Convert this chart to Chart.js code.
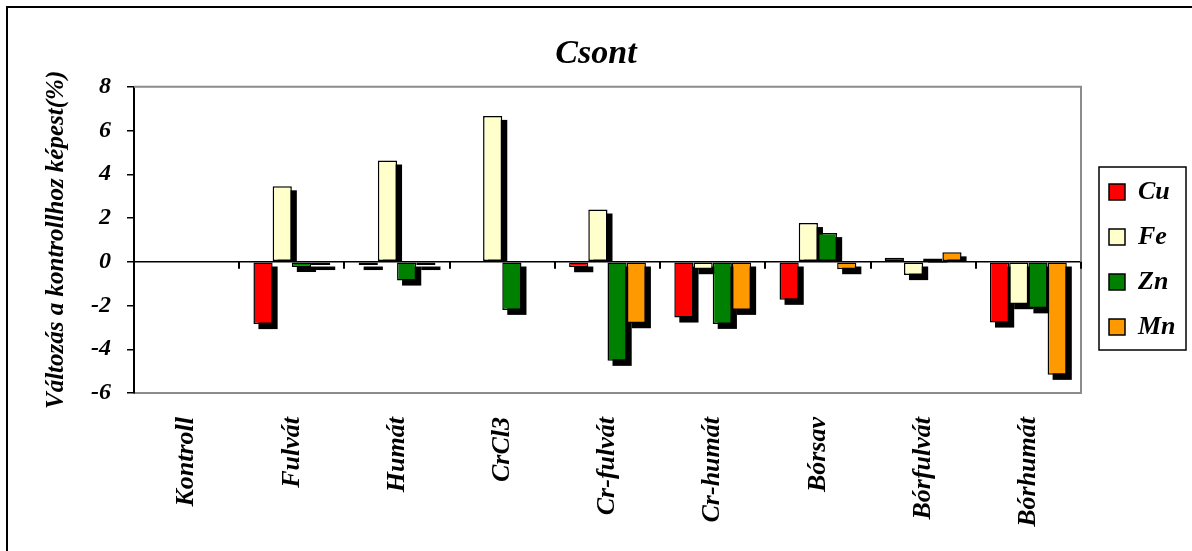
<!DOCTYPE html>
<html>
<head>
<meta charset="utf-8">
<script src="https://cdn.jsdelivr.net/npm/chart.js@4"></script>
<style>
  body { margin: 0; background: #fff; }
  #wrap { width: 1192px; height: 551px; position: relative; }
</style>
</head>
<body>
<div id="wrap"><canvas id="myChart"></canvas></div>
<script>
const categories = ['Kontroll', 'Fulvát', 'Humát', 'CrCl3', 'Cr-fulvát', 'Cr-humát', 'Bórsav', 'Bórfulvát', 'Bórhumát'];
const cu = [0, -2.85, -0.15, 0, -0.25, -2.55, -1.74, 0.18, -2.78];
const fe = [0, 3.45, 4.63, 6.67, 2.39, -0.34, 1.77, -0.61, -1.94];
const zn = [0, -0.24, -0.86, -2.2, -4.53, -2.84, 1.31, 0.15, -2.13];
const mn = [0, -0.15, -0.15, 0, -2.81, -2.2, -0.34, 0.43, -5.17];
const yTicks = [-6, -4, -2, 0, 2, 4, 6, 8];

const serif = "'Liberation Serif', 'Times New Roman', serif";
Chart.defaults.color = '#000';
Chart.defaults.font.family = serif;

// legend eltolása
const LEG_DX = 9, LEG_DY = -16;

// fekete "árnyék" a bárok mögött
const arnyek = {
	id: 'arnyek',
	afterInit(chart) {
		const leg = chart.legend;
		const fit = leg.fit;
		leg.fit = function () {
			fit.call(this);
			this.width = 111;
		};
		const draw = leg.draw;
		leg.draw = function () {
			const ctx = this.ctx;
			ctx.save();
			ctx.translate(LEG_DX, LEG_DY);
			draw.call(this);
			ctx.restore();
		};
	},
	beforeDatasetsDraw(chart) {
		const ctx = chart.ctx;
		ctx.save();
		ctx.fillStyle = '#000';
		chart.data.datasets.forEach((ds, i) => {
			chart.getDatasetMeta(i).data.forEach(bar => {
				const left = bar.x - bar.width / 2 + 5;
				if (bar.y < bar.base) {
					ctx.fillRect(left, bar.y + 4, bar.width, bar.base - bar.y - 4);
				} else if (bar.y > bar.base) {
					ctx.fillRect(left, bar.base + 4, bar.width, bar.y - bar.base + 1);
				}
			});
		});
		ctx.restore();
	}
};

const keret = {
	id: 'keret',
	beforeDraw(chart) {
		const ctx = chart.ctx;
		ctx.save();
		ctx.strokeStyle = '#000';
		ctx.lineWidth = 2;
		ctx.strokeRect(7, 7, chart.width + 20, chart.height + 20);
		ctx.restore();
	},
	afterDraw(chart) {
		const ctx = chart.ctx;
		const a = chart.chartArea;
		const x = chart.scales.x, y = chart.scales.y;
		ctx.save();
		// szürke keret fent és jobbra
		ctx.strokeStyle = '#8c8c8c';
		ctx.lineWidth = 2;
		ctx.beginPath();
		ctx.moveTo(a.left, a.top);
		ctx.lineTo(a.right, a.top);
		ctx.lineTo(a.right, a.bottom);
		ctx.stroke();
		// kategória határok a 0 vonalon
		const y0 = y.getPixelForValue(0);
		const half = (x.getPixelForTick(1) - x.getPixelForTick(0)) / 2;
		ctx.strokeStyle = '#000';
		ctx.lineWidth = 2;
		ctx.beginPath();
		for (let i = 0; i < categories.length; i++) {
			const px = Math.round(x.getPixelForTick(i) + half);
			ctx.moveTo(px, y0);
			ctx.lineTo(px, y0 + 7);
		}
		ctx.stroke();
		// jelmagyarázat keret
		const boxes = chart.legend.legendHitBoxes;
		if (boxes && boxes.length) {
			const l = Math.min(...boxes.map(b => b.left)) + LEG_DX - 10;
			const t = Math.min(...boxes.map(b => b.top)) + LEG_DY - 12;
			const btm = Math.max(...boxes.map(b => b.top + b.height)) + LEG_DY + 10;
			ctx.lineWidth = 1.5;
			ctx.strokeRect(l, t, 87, btm - t);
		}
		ctx.restore();
	}
};

const data = {
	labels: categories,
	datasets: [
		{ label: 'Cu', data: cu, backgroundColor: '#ff0000' },
		{ label: 'Fe', data: fe, backgroundColor: '#ffffcc' },
		{ label: 'Zn', data: zn, backgroundColor: '#008000' },
		{ label: 'Mn', data: mn, backgroundColor: '#ff9900' }
	]
};
data.datasets.forEach(ds => {
	ds.borderColor = '#000';
	ds.borderWidth = 1.5;
	ds.borderSkipped = false;
	ds.categoryPercentage = 0.73;
	ds.barPercentage = 1.0;
});

const config = {
	type: 'bar',
	data: data,
	plugins: [arnyek, keret],
	options: {
		responsive: true,
		maintainAspectRatio: false,
		animation: false,
		layout: { padding: 0 },
		plugins: {
			title: {
				display: true,
				text: 'Csont',
				font: { size: 34, weight: 'bold', style: 'italic', family: serif },
				padding: { top: 34, bottom: 12 }
			},
			legend: {
				position: 'right',
				labels: {
					font: { size: 26, weight: 'bold', style: 'italic', family: serif },
					boxWidth: 16,
					boxHeight: 16,
					padding: 19
				}
			},
			tooltip: { enabled: false }
		},
		scales: {
			x: {
				afterFit(scale) { scale.height = 158; },
				grid: { display: false },
				border: { display: true, color: '#8c8c8c', width: 2 },
				ticks: {
					minRotation: 90,
					maxRotation: 90,
					padding: 16,
					font: { size: 26, weight: 'bold', style: 'italic', family: serif }
				}
			},
			y: {
				min: -6,
				max: 8,
				afterFit(scale) { scale.width = 134; },
				afterBuildTicks(scale) {
					scale.ticks = yTicks.map(v => ({ value: v }));
				},
				grid: {
					color: c => c.tick && c.tick.value === 0 ? '#000' : 'rgba(0,0,0,0)',
					lineWidth: 1.5,
					tickColor: '#000',
					tickLength: 7,
					tickWidth: 1.5
				},
				border: { color: '#000', width: 2 },
				ticks: {
					padding: 16,
					font: { size: 24, weight: 'bold', style: 'italic', family: serif }
				},
				title: {
					display: true,
					text: 'Változás a kontrollhoz képest(%)',
					font: { size: 25, weight: 'bold', style: 'italic', family: serif },
					padding: { top: 42, bottom: 0 }
				}
			}
		}
	}
};

const myChart = new Chart(
	document.getElementById('myChart'),
	config
);
</script>
</body>
</html>
